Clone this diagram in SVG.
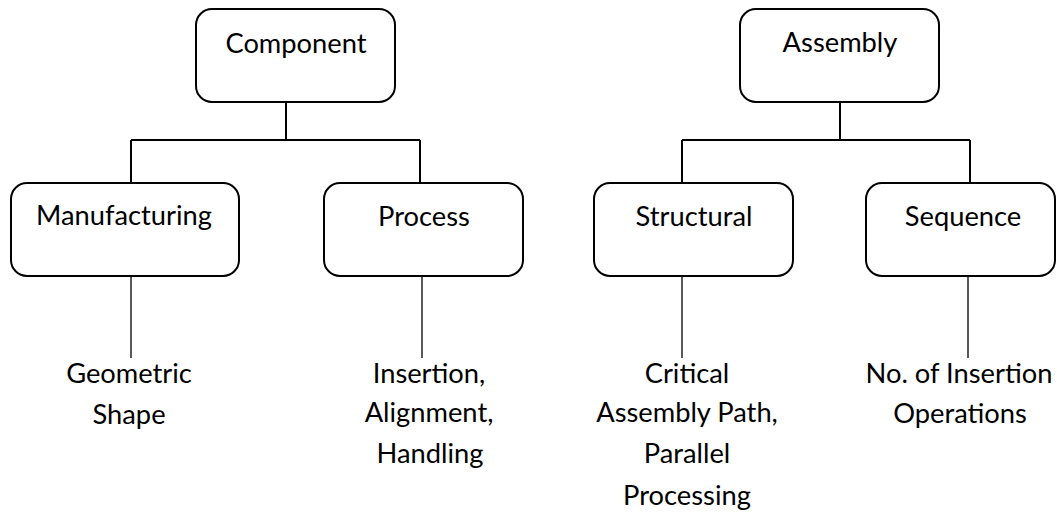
<svg xmlns="http://www.w3.org/2000/svg" width="1057" height="512" viewBox="0 0 1057 512">
<style>
.box{fill:#fff;stroke:#000;stroke-width:2}
.t{font-family:Lato,"Liberation Sans",sans-serif;font-size:27.3px;fill:#000;text-anchor:middle}
.c{fill:none;stroke:#000;stroke-width:2}
.c2{fill:none;stroke:#000;stroke-width:1.3}
</style>
<rect width="1057" height="512" fill="#fff"/>
<g id="connectors">
<path class="c" d="M286 102V140M131 140H420M131 140V183M420 140V183"/>
<path class="c" d="M840 102V140M682 140H970M682 140V183M970 140V183"/>
<path class="c2" d="M131 276V358M422 276V358M682 276V358M968 276V358"/>
</g>
<g id="component"><rect class="box" x="196" y="9" width="199" height="93" rx="16"/><text class="t" x="296" y="53">Component</text></g>
<g id="assembly"><rect class="box" x="740" y="9" width="199" height="93" rx="16"/><text class="t" x="840" y="52">Assembly</text></g>
<g id="manufacturing"><rect class="box" x="11" y="183" width="228" height="93" rx="16"/><text class="t" x="124" y="225">Manufacturing</text></g>
<g id="process"><rect class="box" x="324" y="183" width="199" height="93" rx="16"/><text class="t" x="424" y="226">Process</text></g>
<g id="structural"><rect class="box" x="594" y="183" width="199" height="93" rx="16"/><text class="t" x="694" y="226">Structural</text></g>
<g id="sequence"><rect class="box" x="866" y="183" width="189" height="93" rx="16"/><text class="t" x="963" y="226">Sequence</text></g>
<g id="geometric"><text class="t" x="129" y="383">Geometric</text><text class="t" x="129" y="424">Shape</text></g>
<g id="insertion"><text class="t" x="429" y="383">Insertion,</text><text class="t" x="429" y="422">Alignment,</text><text class="t" x="430" y="463">Handling</text></g>
<g id="critical"><text class="t" x="687" y="383">Critical</text><text class="t" x="687" y="422">Assembly Path,</text><text class="t" x="687" y="463">Parallel</text><text class="t" x="687" y="505">Processing</text></g>
<g id="operations"><text class="t" x="959" y="383">No. of Insertion</text><text class="t" x="960" y="423">Operations</text></g>
</svg>
